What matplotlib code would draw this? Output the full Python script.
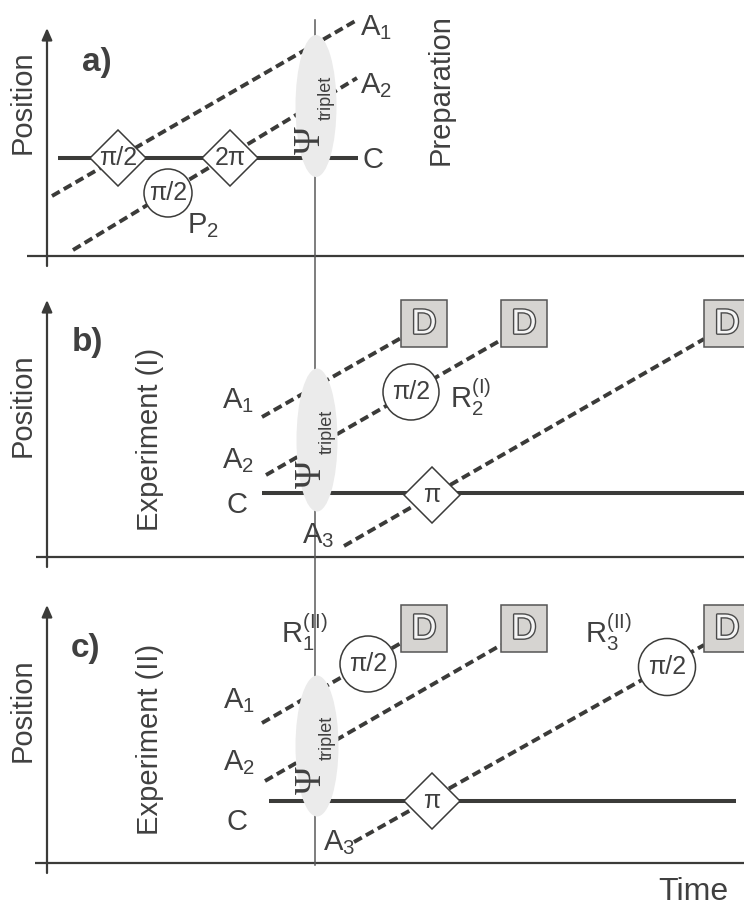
"""
Schematic of the triplet preparation (a) and the two experiments (b, c).
Output: out.png (744 x 906 px)
"""

import matplotlib
matplotlib.use("Agg")
import matplotlib.pyplot as plt
import matplotlib.patheffects as pe
from matplotlib.patches import Ellipse, Circle, Rectangle, RegularPolygon

# -- Colours / fonts ----------------------------------------------------------

DARK = "#3b3b39"
TEXT = "#404040"
VLINE = "#5a5a5a"
CLOUD = "#ebebeb"
BOXFILL = "#d6d4d1"
BOXEDGE = "#555555"

plt.rcParams["font.family"] = ["Liberation Sans", "DejaVu Sans"]
plt.rcParams["mathtext.fontset"] = "custom"
plt.rcParams["mathtext.rm"] = "Liberation Sans"
plt.rcParams["mathtext.it"] = "Liberation Sans"

# -- Geometry (picture pixels, y downwards) -----------------------------------

# coordinate frames of the three panels
axis_x = 47
yaxis_top = [28, 300, 605]
yaxis_bottom = [266, 567, 873]
xaxis_y = [256, 557, 863]
xaxis_start = [27, 36, 35]
panel_letters = ["a)", "b)", "c)"]
letter_xy = [(97, 63), (87, 342), (86, 648)]
position_y = [102, 405, 710]
side_labels = ["Preparation", "Experiment (I)", "Experiment (II)"]
side_xy = [(441, 90), (150, 439), (150, 739)]

# common time instant of the triplet state
time_x = 315
time_span = (20, 865)

# dashed atom trajectories
dashed_beams = [
    ((52, 196), (357, 20)),     # a) A1
    ((73, 250), (357, 78)),     # a) A2
    ((262, 417), (401, 338)),   # b) A1
    ((266, 475), (501, 340)),   # b) A2
    ((344, 546), (704, 339)),   # b) A3
    ((262, 723), (401, 643)),   # c) A1
    ((265, 781), (501, 645)),   # c) A2
    ((354, 842), (704, 645)),   # c) A3
]

# solid cavity lines (C)
cavity_lines = [((58, 158), (358, 158)),
                ((262, 493), (744, 493)),
                ((269, 801), (736, 801))]

# triplet "clouds"
clouds_xy = [(316, 106), (317, 440), (317, 746)]
clouds_wh = [(41, 142), (41, 143), (43, 141)]

# pulses
diamonds_xy = [(118, 158), (230, 158), (432, 495), (432, 801)]
diamond_text = ["\u03c0/2", "2\u03c0", "\u03c0", "\u03c0"]
circles_xy = [(168, 193), (411, 392), (368, 664), (667, 667)]
circle_r = [24, 28, 28, 28.5]

# detectors
detector_x = [401, 501, 704, 401, 501, 704]
detector_y = [300, 300, 300, 605, 605, 605]

# trajectory labels: (text, left x, baseline y)
beam_labels = [
    (r"$\mathrm{A}_1$", 360, 35), (r"$\mathrm{A}_2$", 360, 93),
    ("C", 362, 168), (r"$\mathrm{P}_2$", 187, 233),
    (r"$\mathrm{A}_1$", 222, 408), (r"$\mathrm{A}_2$", 222, 468),
    ("C", 226, 513), (r"$\mathrm{A}_3$", 302, 543),
    (r"$\mathrm{R}_2^{(\mathrm{I})}$", 450, 408),
    (r"$\mathrm{A}_1$", 223, 708), (r"$\mathrm{A}_2$", 223, 770),
    ("C", 226, 830), (r"$\mathrm{A}_3$", 323, 850),
    (r"$\mathrm{R}_1^{(\mathrm{II})}$", 281, 643),
    (r"$\mathrm{R}_3^{(\mathrm{II})}$", 585, 643),
]

# -- Figure -------------------------------------------------------------------

fig = plt.figure(figsize=(7.44, 9.06), dpi=100)
ax = fig.add_axes([0, 0, 1, 1])
ax.set_xlim(0, 744)
ax.set_ylim(906, 0)
ax.axis("off")

# axes of each panel
for i in range(3):
    ax.plot([xaxis_start[i], 744], [xaxis_y[i]] * 2, color=DARK, lw=1.6,
            solid_capstyle="butt", zorder=1)
    ax.annotate("", xy=(749, xaxis_y[i]), xytext=(735, xaxis_y[i]),
                arrowprops=dict(arrowstyle="-|>,head_length=0.5,head_width=0.22",
                                mutation_scale=14, color=DARK, lw=1.2,
                                shrinkA=0, shrinkB=0), zorder=1)
    ax.annotate("", xy=(axis_x, yaxis_top[i]), xytext=(axis_x, yaxis_bottom[i]),
                arrowprops=dict(arrowstyle="-|>,head_length=0.5,head_width=0.22",
                                mutation_scale=14, color=DARK, lw=1.6,
                                shrinkA=0, shrinkB=0), zorder=1)
    ax.text(axis_x - 24, position_y[i], "Position", rotation=90, ha="center",
            va="center", fontsize=21, color=TEXT)
    ax.text(*letter_xy[i], panel_letters[i], ha="center", va="center",
            fontsize=24, fontweight="bold", color=TEXT)
    ax.text(*side_xy[i], side_labels[i], rotation=90, ha="center",
            va="center", fontsize=21, color=TEXT)

ax.text(658, 900, "Time", ha="left", va="baseline", fontsize=23, color=TEXT)

# vertical time marker
ax.plot([time_x, time_x], time_span, color=VLINE, lw=1.1, zorder=1)

# trajectories
for (x0, y0), (x1, y1) in dashed_beams:
    ax.plot([x0, x1], [y0, y1], color=DARK, lw=2.8, dashes=(2.3, 1.2),
            dash_capstyle="butt", zorder=2)
for (x0, y0), (x1, y1) in cavity_lines:
    ax.plot([x0, x1], [y0, y1], color=DARK, lw=2.9, solid_capstyle="butt",
            zorder=2)

# triplet clouds
for (cx, cy), (w, h) in zip(clouds_xy, clouds_wh):
    ax.add_patch(Ellipse((cx, cy), w, h, facecolor=CLOUD, edgecolor="none",
                         zorder=3))
    ax.text(cx - 5, cy + 34, "\u03a8", rotation=90, ha="center", va="center",
            fontsize=27, family="Liberation Serif", color=TEXT, zorder=5)
    ax.text(cx + 10, cy - 8, "triplet", rotation=90, ha="center", va="center",
            fontsize=13, color=TEXT, zorder=5)

# pulses
for (x, y), t in zip(diamonds_xy, diamond_text):
    ax.add_patch(RegularPolygon((x, y), numVertices=4, radius=28,
                                facecolor="white", edgecolor=DARK, lw=1.1,
                                zorder=4))
    ax.text(x, y, t, ha="center", va="center", fontsize=18, color=TEXT,
            zorder=5)
for (x, y), r in zip(circles_xy, circle_r):
    ax.add_patch(Circle((x, y), r, facecolor="white", edgecolor=DARK, lw=1.1,
                        zorder=4))
    ax.text(x, y, "\u03c0/2", ha="center", va="center", fontsize=18,
            color=TEXT, zorder=5)

# detectors
for x, y in zip(detector_x, detector_y):
    ax.add_patch(Rectangle((x, y), 46, 47, facecolor=BOXFILL,
                           edgecolor=BOXEDGE, lw=1.1, zorder=4))
    ax.text(x + 23, y + 24, "D", ha="center", va="center", fontsize=25,
            color="#f4f4f4", zorder=5,
            path_effects=[pe.Stroke(linewidth=2.0, foreground="#4a4a4a"),
                          pe.Normal()])

# labels
for t, x, y in beam_labels:
    ax.text(x, y, t, ha="left", va="baseline", fontsize=21, color=TEXT,
            zorder=5)

fig.savefig("out.png", dpi=100, facecolor="white")
plt.close(fig)
